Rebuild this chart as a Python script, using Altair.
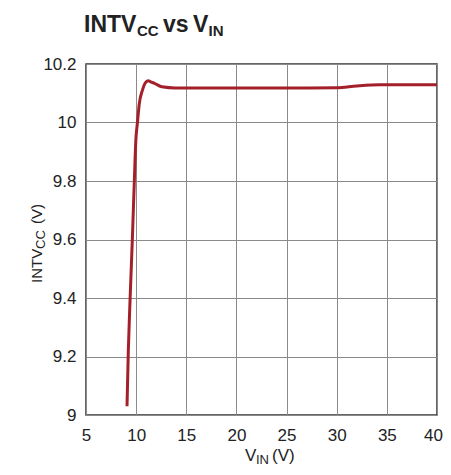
import altair as alt
import pandas as pd

# data
vin = [9.09, 9.22, 9.39, 9.62, 9.82, 9.97, 10.13, 10.32, 10.62, 10.90, 11.20, 11.50,
       11.83, 12.57, 13.9, 15, 20, 25, 30, 32, 34.3, 37, 40]
intvcc = [9.03, 9.22, 9.39, 9.60, 9.80, 9.94, 10.00, 10.066, 10.11, 10.135, 10.143, 10.138,
          10.134, 10.122, 10.118, 10.118, 10.118, 10.118, 10.119, 10.125, 10.129, 10.129, 10.129]
x_ticks = [5, 10, 15, 20, 25, 30, 35, 40]
y_ticks = [9.0, 9.2, 9.4, 9.6, 9.8, 10.0, 10.2]

df = pd.DataFrame({"vin": vin, "intvcc": intvcc})

FONT = "Liberation Sans"
W, H = 351, 351

base = alt.Chart(df)

line = base.mark_line(color="#a3202a", strokeWidth=3, interpolate="monotone").encode(
    x=alt.X("vin:Q", scale=alt.Scale(domain=[5, 40], nice=False, zero=False),
            axis=alt.Axis(values=x_ticks, title=None, labelFont=FONT, labelFontSize=17,
                          labelColor="#222", labelPadding=12, ticks=False, domain=False,
                          grid=True, gridColor="#8a8a8a", gridWidth=1,
                          labelOffset={"condition": {"test": "datum.value == 40", "value": -4},
                                       "value": 0},
                          labelFlush=False, labelOverlap=False)),
    y=alt.Y("intvcc:Q", scale=alt.Scale(domain=[9, 10.2], nice=False, zero=False),
            axis=alt.Axis(values=y_ticks, format=".1~f", title=None, labelFont=FONT,
                          labelFontSize=17, labelColor="#222", labelPadding=10, ticks=False,
                          domain=False, grid=True, gridColor="#8a8a8a", gridWidth=1,
                          labelFlush=False, labelOverlap=False)),
)


def txt(s, x, y, size, bold=False, angle=0, color="#222"):
    kw = dict(font=FONT, fontSize=size, align="left", baseline="alphabetic",
              color=color, fontWeight="bold" if bold else "normal")
    if angle:
        kw["angle"] = angle
    return alt.Chart(pd.DataFrame({"t": [s]})).mark_text(**kw).encode(
        text="t:N", x=alt.value(x), y=alt.value(y))


title_parts = [
    txt("INTV", -2, -32, 23, bold=True),
    txt("CC", 51, -28, 15, bold=True),
    txt("vs", 77, -32, 23, bold=True),
    txt("V", 107, -32, 23, bold=True),
    txt("IN", 122.5, -28, 15, bold=True),
]
xtitle = [
    txt("V", 159, 397, 17),
    txt("IN", 170, 399.5, 13),
    txt("(V)", 186, 397, 17),
]
ytitle = [
    txt("INTV", -44, 219, 15, angle=270),
    txt("CC", -41, 185, 13, angle=270),
    txt("(V)", -44, 160, 15, angle=270),
]

chart = alt.layer(line, *title_parts, *xtitle, *ytitle).properties(
    width=W, height=H,
    autosize=alt.AutoSizeParams(type="none"),
    padding={"left": 78, "top": 56, "right": 6, "bottom": 52},
).configure_view(stroke="#333", strokeWidth=1.5)

chart.save("out.html", embed_options={"renderer": "svg", "actions": False})
